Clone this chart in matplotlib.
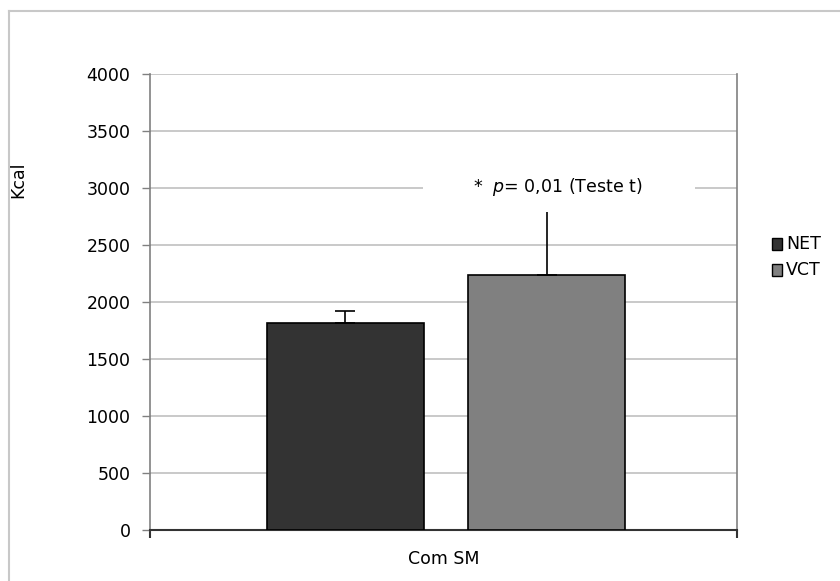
import matplotlib
matplotlib.use("Agg")
import matplotlib.pyplot as plt
from matplotlib.lines import Line2D
from matplotlib.patches import Rectangle

plt.rcParams['font.family'] = ['DejaVu Sans']

groups = ["NET", "VCT"]
means = [1820, 2240]
errors = [100, 600]
colors = ["#333333", "#808080"]
category = "Com SM"
yticks = [0, 500, 1000, 1500, 2000, 2500, 3000, 3500, 4000]

W, H = 840, 581
FS = 12.5
fig = plt.figure(figsize=(W / 100, H / 100), dpi=100)

# outer chart frame
fig.add_artist(Line2D([9 / W, 1], [1 - 11 / H, 1 - 11 / H], color="#c8c8c8", lw=1.5))
fig.add_artist(Line2D([9 / W, 9 / W], [0, 1 - 11 / H], color="#c8c8c8", lw=1.5))

ax = fig.add_axes([150 / W, 1 - 530 / H, (737 - 150) / W, (530 - 74) / H])
ax.set_xlim(0, 1)
ax.set_ylim(0, 4000)

positions = [0.333, 0.676]
width = 0.267
for x, m, e, c in zip(positions, means, errors, colors):
    ax.bar(x, m, width=width, color=c, edgecolor="black", linewidth=1.2, zorder=3)
    ax.errorbar(x, m, yerr=[[0], [e]], fmt="none", ecolor="black", elinewidth=1.2,
                capsize=7, capthick=1.2, zorder=3)

ax.set_yticks(yticks)
ax.set_yticklabels([str(v) for v in yticks], fontsize=FS)
ax.yaxis.grid(True, color="#c0c0c0", linewidth=1.2, zorder=0)
ax.set_axisbelow(True)
ax.set_xticks([0, 1])
ax.set_xticklabels(["", ""])
ax.tick_params(axis="y", length=6, width=1, color="#808080", pad=8)
ax.tick_params(axis="x", length=6, width=1.5, color="#333333")

for side in ("left", "right"):
    ax.spines[side].set_color("#808080")
    ax.spines[side].set_linewidth(1.2)
ax.spines["top"].set_visible(False)
ax.spines["bottom"].set_color("#333333")
ax.spines["bottom"].set_linewidth(1.5)

ax.text(0.5, -0.063, category, transform=ax.transAxes, ha="center", va="center", fontsize=FS)
fig.text(18 / W, 1 - 180 / H, "Kcal", rotation=90, ha="center", va="center", fontsize=FS)

# significance note on a white panel
ax.add_patch(Rectangle((0.465, 2790), 0.463, 450, facecolor="white", edgecolor="none", zorder=4))
ax.text(0.694, 3010, r"*  $\it{p}$= 0,01 (Teste t)", ha="center", va="center",
        fontsize=FS, zorder=5)

# legend
for i, (g, c) in enumerate(zip(groups, colors)):
    yc = 1 - (244 + 26 * i) / H
    fig.patches.append(Rectangle((772 / W, yc - 6 / H), 10 / W, 12 / H,
                                 transform=fig.transFigure, facecolor=c,
                                 edgecolor="black", linewidth=1.0))
    fig.text(786 / W, yc, g, ha="left", va="center", fontsize=FS)

fig.savefig("out.png", dpi=100)
